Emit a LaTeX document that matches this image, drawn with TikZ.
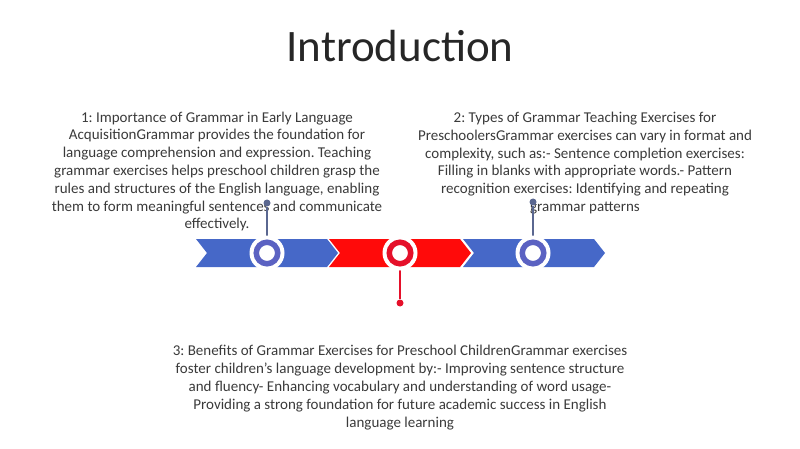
\documentclass[tikz,border=0pt]{standalone}
\usepackage{fontspec}
\setmainfont{Carlito}
\definecolor{bandblue}{HTML}{4668C8}
\definecolor{bandred}{HTML}{FF0A0A}
\definecolor{ringblue}{HTML}{5B62C2}
\definecolor{ringred}{HTML}{E5102A}
\definecolor{pinblue}{HTML}{5A6790}
\definecolor{textgray}{HTML}{3A3A3A}

\begin{document}
\frenchspacing
\begin{tikzpicture}[x=1pt,y=-1pt]
        \tikzstyle{every node}=[font=\fontsize{15}{17.8}\selectfont, text=textgray, align=center]
        \useasboundingbox (0,0) rectangle (800,449);

        \node (title) at (400,46) {\fontsize{45}{52}\selectfont\color{black!85}Introduction};

        \node (txt_1) at (217,171.5) {1: Importance of Grammar in Early Language\\
            AcquisitionGrammar provides the foundation for\\
            language comprehension and expression. Teaching\\
            grammar exercises helps preschool children grasp the\\
            rules and structures of the English language, enabling\\
            them to form meaningful sentences and communicate\\
            effectively.};
        \node (txt_2) at (585,163) {2: Types of Grammar Teaching Exercises for\\
            PreschoolersGrammar exercises can vary in format and\\
            complexity, such as:- Sentence completion exercises:\\
            Filling in blanks with appropriate words.- Pattern\\
            recognition exercises: Identifying and repeating\\
            grammar patterns};
        \node (txt_3) at (400,387.5) {3: Benefits of Grammar Exercises for Preschool ChildrenGrammar exercises\\
            foster children\symbol{39}s language development by:- Improving sentence structure\\
            and fluency- Enhancing vocabulary and understanding of word usage-\\
            Providing a strong foundation for future academic success in English\\
            language learning};

        % band of chevrons
        \foreach \x/\c in {196/bandblue,329/bandred,463/bandblue} {
            \fill[\c] (\x,239) -- ++(131,0) -- ++(11,14) -- ++(-11,14) -- ++(-131,0) -- ++(11,-14) -- cycle;
        }

        % pins
        \foreach \x/\y/\c/\n in {267/203/pinblue/1,400/303/ringred/2,533/202/pinblue/3} {
            \node[circle,fill=\c,inner sep=0,minimum size=7pt] (dot_\n) at (\x,\y) {};
            \coordinate (mid_\n) at (\x,253);
            \draw[\c,line width=1.5pt] (dot_\n) -- (mid_\n);
        }

        % circles
        \foreach \x/\c/\n in {267/ringblue/1,400/ringred/2,533/ringblue/3} {
            \node[circle,fill=white,inner sep=0,minimum size=35pt] (halo_\n) at (\x,253) {};
            \node[circle,draw=\c,fill=white,line width=5.5pt,inner sep=0,minimum size=21.5pt] (ring_\n) at (\x,253) {};
        }
\end{tikzpicture}
\end{document}
